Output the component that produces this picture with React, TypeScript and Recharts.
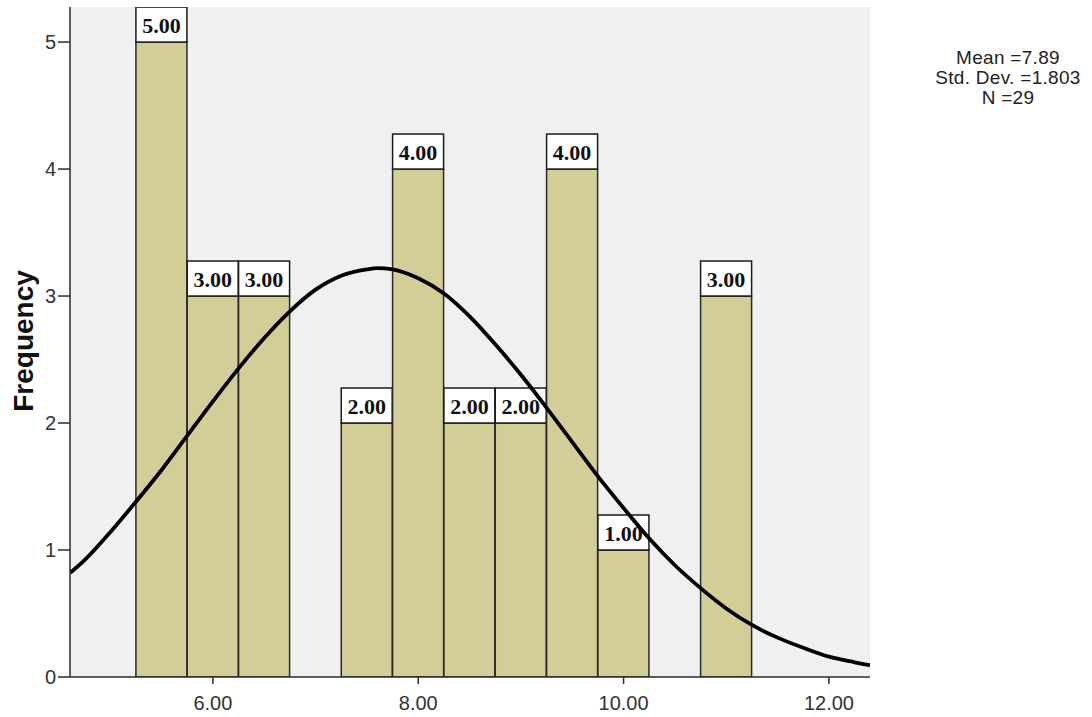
import React from 'react';
import {
  ComposedChart,
  Bar,
  Line,
  XAxis,
  YAxis,
  CartesianGrid,
} from 'recharts';

// Histogram bins (centre of each 0.5-wide bin) and their frequencies
const binCenters = [5.5, 6.0, 6.5, 7.0, 7.5, 8.0, 8.5, 9.0, 9.5, 10.0, 10.5, 11.0];
const frequencies = [5, 3, 3, 0, 2, 4, 2, 2, 4, 1, 0, 3];

// Fitted normal curve, sampled along the x axis
const curveX = [4.61, 4.75, 5.0, 5.25, 5.5, 5.75, 6.0, 6.25, 6.5, 6.75, 7.0, 7.25, 7.5, 7.6, 7.75, 8.0, 8.25, 8.5, 8.75, 9.0, 9.25, 9.5, 9.75, 10.0, 10.25, 10.5, 10.75, 11.0, 11.25, 11.5, 11.75, 12.0, 12.25, 12.4];
const curveY = [0.82, 0.92, 1.14, 1.38, 1.63, 1.9, 2.17, 2.43, 2.67, 2.88, 3.05, 3.16, 3.21, 3.22, 3.21, 3.14, 3.02, 2.84, 2.62, 2.38, 2.12, 1.85, 1.58, 1.33, 1.09, 0.88, 0.7, 0.54, 0.41, 0.31, 0.23, 0.16, 0.116, 0.093];

const xTicks = [6, 8, 10, 12];
const yTicks = [0, 1, 2, 3, 4, 5];
const xDomain = [4.608, 12.4];
const yDomain = [0, 5.276];

const statsLines = ['Mean =7.89', 'Std. Dev. =1.803', 'N =29'];
const yTitle = 'Frequency';

const binRows = binCenters.map((x, i) => ({ x, count: frequencies[i] }));
const curveRows = curveX.map((x, i) => ({ x, y: curveY[i] }));

const SANS = '"Liberation Sans", Arial, sans-serif';
const SERIF = '"Liberation Serif", "Times New Roman", serif';
const FRAME = '#2b2b2b';
const BAR_FILL = '#d3ce98';
const BAR_EDGE = '#2a2a2a';

// A histogram bar with its value box sitting on top of it
const BinShape = (props: any) => {
  const { x, y, width, height, payload } = props;
  const count = payload ? payload.count : 0;
  if (!count) return null;
  const bx = Number(x);
  const by = Number(y);
  const w = Number(width);
  const bh = Number(height);
  const h = 35;
  return (
    <g>
      <rect x={bx} y={by} width={w} height={bh} fill={BAR_FILL} stroke={BAR_EDGE} strokeWidth={1.5} />
      <rect x={bx} y={by - h} width={w} height={h} fill="#ffffff" stroke="#1a1a1a" strokeWidth={1.5} />
      <text
        x={bx + w / 2}
        y={by - h / 2 + 1}
        textAnchor="middle"
        dominantBaseline="central"
        fontFamily={SERIF}
        fontWeight="bold"
        fontSize={22}
        fill="#111"
      >
        {Number(count).toFixed(2)}
      </text>
    </g>
  );
};

const YTitle = (props: any) => {
  const vb = props.viewBox || {};
  const cx = vb.x + 3;
  const cy = vb.y + vb.height / 2 - 1;
  return (
    <text
      x={cx}
      y={cy}
      transform={`rotate(-90, ${cx}, ${cy})`}
      textAnchor="middle"
      dominantBaseline="central"
      fontFamily={SANS}
      fontWeight="bold"
      fontSize={28}
      fill="#111"
    >
      {yTitle}
    </text>
  );
};

export default function App() {
  return (
    <div style={{ position: 'absolute', left: 0, top: 0, width: 1092, height: 717, background: '#fff' }}>
      <ComposedChart
        width={1092}
        height={717}
        data={binRows}
        margin={{ top: 7, right: 222, left: 20, bottom: 0 }}
        barCategoryGap={0}
        barGap={0}
      >
        <CartesianGrid xAxisId="main" yAxisId="left" fill="#f0f0f0" horizontal={false} vertical={false} />
        <XAxis
          xAxisId="main"
          type="number"
          dataKey="x"
          domain={xDomain}
          allowDataOverflow
          ticks={xTicks}
          tickFormatter={(v: number) => v.toFixed(2)}
          height={40}
          tickSize={7}
          tickMargin={12}
          axisLine={{ stroke: FRAME, strokeWidth: 1.5 }}
          tickLine={{ stroke: FRAME, strokeWidth: 1.5 }}
          tick={{ fontFamily: SANS, fontSize: 20, fill: '#333' }}
        />
        <XAxis
          xAxisId="bins"
          type="number"
          dataKey="x"
          orientation="top"
          domain={xDomain}
          allowDataOverflow
          height={0}
          tick={false}
          tickLine={false}
          axisLine={{ stroke: FRAME, strokeWidth: 1.5 }}
        />
        <YAxis
          yAxisId="left"
          type="number"
          domain={yDomain}
          allowDataOverflow
          ticks={yTicks}
          width={50}
          tickSize={12}
          tickMargin={2}
          axisLine={{ stroke: FRAME, strokeWidth: 1.5 }}
          tickLine={{ stroke: FRAME, strokeWidth: 1.5 }}
          tick={{ fontFamily: SANS, fontSize: 20, fill: '#333' }}
          label={<YTitle />}
        />
        <YAxis
          yAxisId="right"
          orientation="right"
          type="number"
          domain={yDomain}
          allowDataOverflow
          width={0}
          tick={false}
          tickLine={false}
          axisLine={{ stroke: FRAME, strokeWidth: 1.5 }}
        />
        <Bar
          xAxisId="bins"
          yAxisId="left"
          dataKey="count"
          fill={BAR_FILL}
          stroke={BAR_EDGE}
          strokeWidth={1.5}
          shape={<BinShape />}
          isAnimationActive={false}
        />
        <Line
          xAxisId="main"
          yAxisId="left"
          data={curveRows}
          dataKey="y"
          type="monotone"
          stroke="#000"
          strokeWidth={3.8}
          dot={false}
          activeDot={false}
          isAnimationActive={false}
        />
      </ComposedChart>
      <div
        style={{
          position: 'absolute',
          left: 908,
          top: 48,
          width: 200,
          textAlign: 'center',
          fontFamily: SANS,
          fontSize: 19,
          letterSpacing: 0.3,
          lineHeight: '20px',
          color: '#222',
        }}
      >
        {statsLines.map((s) => (
          <div key={s}>{s}</div>
        ))}
      </div>
    </div>
  );
}
